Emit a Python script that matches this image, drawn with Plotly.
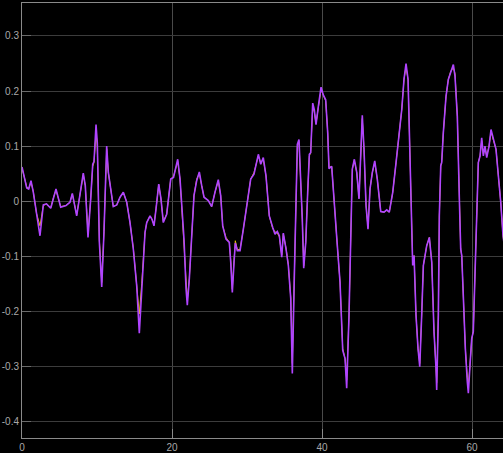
import plotly.graph_objects as go

# Sample times (s)
t = [0.0, 0.63, 0.89, 1.2, 1.51, 1.93, 2.4, 2.84, 3.27, 3.83, 4.2, 4.53, 5.16, 5.87, 6.4, 6.71,
     7.29, 7.73, 8.17, 8.44, 8.8, 9.16, 9.43, 9.6, 9.87, 10.04, 10.31, 10.63, 10.93, 11.29, 11.51,
     12.17, 12.63, 13.07, 13.51, 13.96, 14.4, 14.84, 15.29, 15.64, 15.96, 16.4, 16.63, 17.07, 17.33,
     17.6, 17.87, 18.23, 18.53, 18.84, 19.29, 19.83, 20.2, 20.76, 21.07, 21.43, 21.6, 21.87, 22.04,
     22.31, 22.63, 22.93, 23.29, 23.64, 23.96, 24.27, 24.84, 25.29, 25.73, 26.17, 26.49, 26.76, 27.2,
     27.64, 27.83, 28.04, 28.27, 28.44, 28.71, 29.07, 29.51, 29.96, 30.49, 30.93, 31.51, 31.83, 32.17,
     32.53, 32.97, 33.43, 33.73, 34.04, 34.31, 34.63, 34.84, 35.2, 35.51, 35.83, 36.04, 36.31, 36.53,
     36.71, 36.93, 37.16, 37.37, 37.56, 37.83, 38.09, 38.31, 38.49, 38.76, 38.97, 39.2, 39.51, 39.87,
     40.17, 40.49, 40.76, 40.93, 41.29, 41.6, 42.04, 42.4, 42.76, 43.07, 43.29, 43.6, 43.87, 44.04,
     44.31, 44.63, 44.93, 45.16, 45.37, 45.6, 45.87, 46.13, 46.4, 46.71, 47.03, 47.37, 47.83, 48.27,
     48.63, 48.97, 49.43, 49.87, 50.4, 50.63, 50.93, 51.2, 51.47, 51.73, 51.96, 52.09, 52.27, 52.53,
     52.8, 53.03, 53.29, 53.51, 53.96, 54.31, 54.63, 54.93, 55.2, 55.29, 55.51, 55.64, 55.83, 55.96,
     56.17, 56.53, 56.84, 57.16, 57.51, 57.73, 58.04, 58.31, 58.49, 58.63, 58.84, 59.11, 59.37, 59.51,
     59.73, 59.96, 60.17, 60.4, 60.63, 60.84, 61.07, 61.29, 61.51, 61.73, 61.96, 62.27, 62.53, 62.84,
     63.2, 63.51, 63.83, 64.13, 64.5]

# Measured output
y_meas = [0.062, 0.024, 0.022, 0.037, 0.016, -0.024, -0.063, -0.007, -0.005, -0.013, 0.007, 0.022,
          -0.011, -0.008, -0.002, 0.014, -0.027, 0.010, 0.051, 0.028, -0.066, 0.004, 0.067, 0.072,
          0.139, 0.106, -0.074, -0.156, -0.056, 0.100, 0.052, -0.010, -0.007, 0.007, 0.016, -0.002,
          -0.039, -0.087, -0.153, -0.240, -0.153, -0.057, -0.039, -0.027, -0.033, -0.045, -0.014,
          0.031, 0.004, -0.039, -0.024, 0.040, 0.043, 0.076, 0.040, -0.045, -0.069, -0.159, -0.189,
          -0.141, -0.051, 0.010, 0.037, 0.053, 0.028, 0.007, 0.001, -0.010, 0.016, 0.039, 0.010,
          -0.045, -0.069, -0.075, -0.111, -0.166, -0.111, -0.076, -0.090, -0.090, -0.051, -0.008,
          0.040, 0.049, 0.085, 0.067, 0.079, 0.046, -0.027, -0.048, -0.060, -0.055, -0.063, -0.102,
          -0.058, -0.087, -0.117, -0.177, -0.313, -0.135, -0.002, 0.103, 0.112, 0.046, -0.033,
          -0.122, -0.075, 0.016, 0.085, 0.088, 0.178, 0.166, 0.139, 0.172, 0.207, 0.193, 0.184,
          0.124, 0.059, 0.063, 0.010, -0.081, -0.147, -0.271, -0.286, -0.340, -0.207, -0.027, 0.058,
          0.076, 0.052, 0.004, 0.094, 0.156, 0.094, -0.008, -0.051, 0.022, 0.052, 0.073, 0.040,
          -0.019, -0.020, -0.016, -0.020, 0.016, 0.070, 0.130, 0.166, 0.221, 0.250, 0.221, 0.094,
          -0.057, -0.117, -0.099, -0.207, -0.268, -0.301, -0.207, -0.117, -0.081, -0.066, -0.111,
          -0.237, -0.304, -0.343, -0.207, -0.027, 0.064, 0.070, 0.124, 0.190, 0.221, 0.236, 0.248,
          0.227, 0.154, 0.004, -0.087, -0.099, -0.177, -0.268, -0.328, -0.349, -0.298, -0.250,
          -0.237, -0.117, 0.004, 0.070, 0.082, 0.115, 0.082, 0.100, 0.079, 0.100, 0.130, 0.112,
          0.094, 0.046, -0.002, -0.063, -0.100]

# Reference output (nearly identical, slightly shallower at the sharp extremes)
y_ref = [0.060, 0.026, 0.022, 0.035, 0.017, -0.022, -0.045, -0.008, -0.005, -0.012, 0.007, 0.020,
         -0.010, -0.008, -0.002, 0.013, -0.025, 0.010, 0.048, 0.028, -0.060, 0.004, 0.063, 0.070,
         0.125, 0.100, -0.070, -0.148, -0.055, 0.095, 0.052, -0.010, -0.007, 0.007, 0.016, -0.002,
         -0.039, -0.085, -0.150, -0.205, -0.150, -0.057, -0.039, -0.027, -0.033, -0.043, -0.014,
         0.030, 0.004, -0.037, -0.024, 0.040, 0.045, 0.072, 0.040, -0.045, -0.069, -0.155, -0.180,
         -0.140, -0.051, 0.010, 0.040, 0.050, 0.028, 0.007, 0.001, -0.010, 0.016, 0.037, 0.010,
         -0.045, -0.066, -0.075, -0.108, -0.160, -0.108, -0.072, -0.088, -0.088, -0.051, -0.008,
         0.040, 0.052, 0.082, 0.070, 0.076, 0.046, -0.027, -0.050, -0.056, -0.058, -0.065, -0.098,
         -0.060, -0.085, -0.115, -0.175, -0.295, -0.135, -0.002, 0.100, 0.108, 0.046, -0.033,
         -0.118, -0.075, 0.016, 0.082, 0.088, 0.172, 0.162, 0.141, 0.170, 0.202, 0.193, 0.182,
         0.124, 0.061, 0.063, 0.010, -0.081, -0.147, -0.268, -0.286, -0.325, -0.207, -0.027, 0.058,
         0.074, 0.052, 0.006, 0.094, 0.150, 0.094, -0.008, -0.048, 0.022, 0.052, 0.070, 0.040,
         -0.019, -0.020, -0.017, -0.020, 0.016, 0.070, 0.130, 0.166, 0.221, 0.244, 0.221, 0.094,
         -0.057, -0.112, -0.099, -0.207, -0.268, -0.295, -0.207, -0.117, -0.081, -0.066, -0.111,
         -0.237, -0.304, -0.330, -0.207, -0.027, 0.064, 0.072, 0.124, 0.190, 0.221, 0.236, 0.242,
         0.232, 0.154, 0.004, -0.087, -0.099, -0.177, -0.268, -0.320, -0.335, -0.298, -0.250,
         -0.237, -0.117, 0.004, 0.070, 0.082, 0.110, 0.085, 0.097, 0.082, 0.100, 0.126, 0.112,
         0.094, 0.046, -0.002, -0.063, -0.100]

x_ticks = [0, 20, 40, 60]
y_ticks = [-0.4, -0.3, -0.2, -0.1, 0, 0.1, 0.2, 0.3]
y_tick_text = ["-0.4", "-0.3", "-0.2", "-0.1", "0", "0.1", "0.2", "0.3"]

fig = go.Figure()
fig.add_trace(go.Scatter(x=t, y=y_ref, mode="lines", line=dict(color="#e6c300", width=1.0),
                         showlegend=False, hoverinfo="skip"))
fig.add_trace(go.Scatter(x=t, y=y_meas, mode="lines", line=dict(color="#b044ff", width=1.6),
                         showlegend=False, hoverinfo="skip"))

tick_font = dict(family="Liberation Sans, Arial, sans-serif", size=10, color="#a8a8a8")

fig.update_layout(
    width=503, height=453,
    margin=dict(l=22, r=0, t=3, b=13),
    paper_bgcolor="#000000",
    plot_bgcolor="#000000",
    xaxis=dict(
        range=[0, 64.13], tickvals=x_ticks, ticktext=[str(v) for v in x_ticks],
        showgrid=True, gridcolor="#4a4a4a", gridwidth=1,
        zeroline=False, showline=True, linecolor="#8a8a8a", linewidth=1, mirror=True,
        ticks="inside", ticklen=9, tickcolor="#8a8a8a", tickfont=tick_font,
    ),
    yaxis=dict(
        range=[-0.4304, 0.3599], tickvals=y_ticks, ticktext=y_tick_text,
        showgrid=True, gridcolor="#3c3c3c", gridwidth=1,
        zeroline=False, showline=True, linecolor="#8a8a8a", linewidth=1,
        ticks="inside", ticklen=9, tickcolor="#6a6a6a", tickfont=tick_font,
    ),
)

fig.write_html("out.html")
